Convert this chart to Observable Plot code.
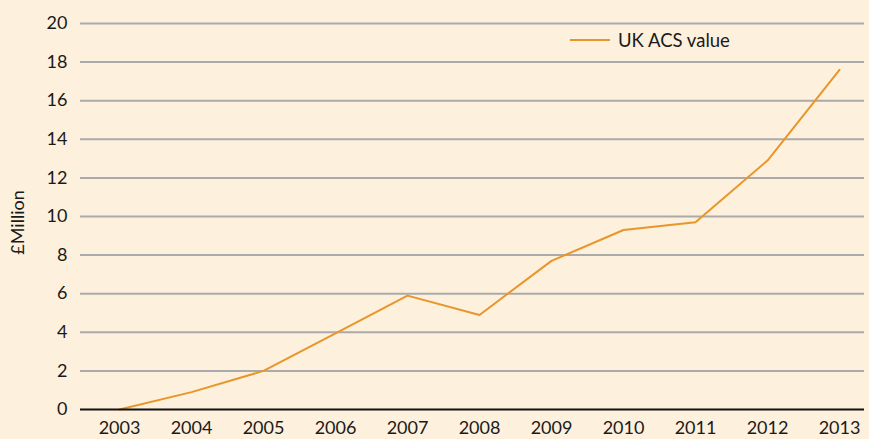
<!DOCTYPE html>
<html>
<head>
<meta charset="utf-8">
<script src="https://cdn.jsdelivr.net/npm/d3@7"></script>
<script src="https://cdn.jsdelivr.net/npm/@observablehq/plot@0.6"></script>
<style>
  html, body { margin: 0; padding: 0; background: #FDF0DC; }
  #wrap { position: relative; width: 869px; height: 439px; overflow: hidden; }
  #legend { position: absolute; left: 570px; top: 29px; font-family: "Lato", "DejaVu Sans", sans-serif; font-size: 18.5px; color: #1a1a1a; display: flex; align-items: center; }
  #legend .sw { width: 40px; height: 2px; background: #E8962A; margin-right: 8px; }
</style>
</head>
<body>
<div id="wrap"><div id="legend"><span class="sw"></span><span>UK ACS value</span></div></div>
<script>
const years = ["2003","2004","2005","2006","2007","2008","2009","2010","2011","2012","2013"];
const values = [0, 0.9, 2.0, 3.95, 5.9, 4.9, 7.7, 9.3, 9.7, 12.9, 17.6];
const yTicks = [0, 2, 4, 6, 8, 10, 12, 14, 16, 18, 20];
const seriesName = "UK ACS value";
const yLabel = "£Million";

const data = years.map((y, i) => ({year: y, value: values[i]}));

const chart = Plot.plot({
  width: 869,
  height: 439,
  marginLeft: 80,
  marginRight: 5,
  marginTop: 23,
  marginBottom: 30,
  style: { background: "transparent", fontFamily: "Lato, 'DejaVu Sans', sans-serif", fontSize: "18px", color: "#1a1a1a" },
  x: { type: "point", domain: years, range: [117, 840], padding: 0, label: null },
  y: { domain: [0, 20], ticks: yTicks, label: null },
  marks: [
    Plot.ruleY(yTicks.filter(d => d > 0), { stroke: "#aaaaaa", strokeWidth: 2, strokeOpacity: 1 }),
    Plot.line(data, { x: "year", y: "value", stroke: "#E8962A", strokeWidth: 2 }),
    Plot.ruleY([0], { stroke: "#111", strokeWidth: 2 }),
    Plot.axisY({ ticks: yTicks, tickSize: 0, tickPadding: 13, label: null, fontSize: 18 }),
    Plot.axisX({ tickSize: 0, tickPadding: 12, label: null, fontSize: 18 }),
    Plot.text([yLabel], { frameAnchor: "left", textAnchor: "middle", dx: -62, dy: 6, rotate: -90, fontSize: 18, text: d => d })
  ]
});
document.getElementById("wrap").prepend(chart);
</script>
</body>
</html>
